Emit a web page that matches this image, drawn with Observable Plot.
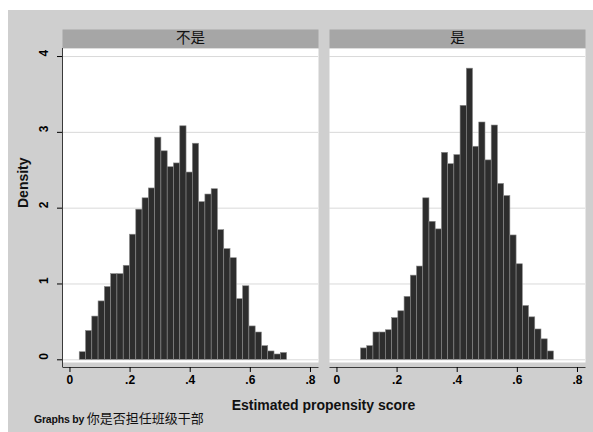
<!DOCTYPE html>
<html>
<head>
<meta charset="utf-8">
<script src="https://cdn.jsdelivr.net/npm/d3@7"></script>
<script src="https://cdn.jsdelivr.net/npm/@observablehq/plot@0.6"></script>
<style>
html, body { margin: 0; padding: 0; background: #ffffff; }
#wrap { position: absolute; left: 8px; top: 10px; width: 585px; height: 422px; background: #cfcfcf;
  font-family: "Liberation Sans", Arial, sans-serif; overflow: hidden; }
#chart svg { display: block; }
#xtitle { position: absolute; left: 53px; width: 525px; top: 386px; line-height: 18px; text-align: center;
  font-size: 14px; font-weight: bold; color: #111; }
#caption { position: absolute; left: 26px; top: 400px; line-height: 16px; color: #111; white-space: nowrap; }
#caption .en { font-size: 10.5px; font-weight: bold; letter-spacing: -0.2px; }
#caption .zh { font-size: 13px; font-family: "Noto Sans CJK SC", sans-serif; }
</style>
</head>
<body>
<div id="wrap">
  <div id="chart"></div>
  <div id="xtitle">Estimated propensity score</div>
  <div id="caption"><span class="en">Graphs by </span><span class="zh">你是否担任班级干部</span></div>
</div>
<script>
// ---- data ----
const groups = ["不是", "是"];
const leftBinStart = 0.0325;
const leftBinWidth = 0.0209;
const leftDensity = [0.10, 0.38, 0.57, 0.77, 0.96, 1.13, 1.13, 1.24, 1.65, 1.98, 2.13, 2.26, 2.93, 2.75, 2.54, 2.59, 3.08,
  2.47, 2.85, 2.08, 2.18, 2.25, 1.71, 1.46, 1.34, 0.80, 0.97, 0.44, 0.36, 0.18, 0.11, 0.07, 0.09];
const rightBinStart = 0.080;
const rightBinWidth = 0.0207;
const rightDensity = [0.15, 0.18, 0.36, 0.36, 0.39, 0.55, 0.64, 0.83, 1.11, 1.23, 2.13, 1.82, 1.72, 2.73, 2.58, 2.70, 3.35,
  3.84, 2.81, 3.13, 2.63, 3.09, 2.32, 2.16, 1.64, 1.26, 0.71, 0.56, 0.40, 0.27, 0.11];
const xTicks = [0, 0.2, 0.4, 0.6, 0.8];
const xTickLabels = ["0", ".2", ".4", ".6", ".8"];
const yTicks = [0, 1, 2, 3, 4];
const yTickLabels = ["0", "1", "2", "3", "4"];
const yTitle = "Density";

// ---- build table ----
const rows = [];
leftDensity.forEach((v, i) => rows.push({group: groups[0], x1: leftBinStart + i * leftBinWidth, x2: leftBinStart + (i + 1) * leftBinWidth, base: 0, density: v}));
rightDensity.forEach((v, i) => rows.push({group: groups[1], x1: rightBinStart + i * rightBinWidth, x2: rightBinStart + (i + 1) * rightBinWidth, base: 0, density: v}));

// ---- layout ----
const W = 585, H = 382, mL = 53, mR = 7, mT = 38, mB = 25;
const innerH = H - mT - mB;
const xDomain = [-0.0248, 0.8267];
const yDomain = [-0.1016, 4.106];
const font = "Liberation Sans, Arial, sans-serif";

const chart = Plot.plot({
  width: W, height: H,
  marginLeft: mL, marginRight: mR, marginTop: mT, marginBottom: mB,
  style: {background: "transparent", fontFamily: font, fontSize: "12px", color: "#000", overflow: "visible"},
  fx: {domain: groups, paddingInner: 0.04, paddingOuter: 0, axis: null, label: null},
  x: {domain: xDomain, axis: null},
  y: {domain: yDomain, axis: null},
  marks: [
    // strip header
    Plot.frame({fill: "#a6a6a6", stroke: "none", insetTop: -19, insetBottom: innerH}),
    // white plot region
    Plot.frame({fill: "#ffffff", stroke: "none", insetBottom: 5}),
    Plot.gridY(yTicks, {stroke: "#d9d9d9", strokeOpacity: 1}),
    Plot.rect(rows, {fx: "group", x1: "x1", x2: "x2", y1: "base", y2: "density",
      fill: "#2d2d2d", stroke: "#8a8a8a", strokeWidth: 0.6}),
    // x axis line
    Plot.frame({fill: "#3a3a3a", stroke: "none", insetTop: innerH - 0.5, insetBottom: -0.5}),
    Plot.axisX(xTicks, {tickSize: 5, tickPadding: 3, fontSize: 12, fontWeight: "bold", label: null,
      tickFormat: d => xTickLabels[xTicks.indexOf(d)]}),
    // y axis line (left panel only)
    Plot.ruleX([xDomain[0]], {fx: () => groups[0], stroke: "#3a3a3a"}),
    Plot.axisY(yTicks, {tickSize: 5, tickFormat: () => "", label: null}),
    Plot.text(yTicks, {fx: () => groups[0], y: d => d, text: d => yTickLabels[yTicks.indexOf(d)],
      frameAnchor: "left", dx: -18, rotate: -90, fontSize: 12, fontWeight: "bold", fill: "#000"}),
    Plot.text([yTitle], {fx: () => groups[0], text: d => d, frameAnchor: "left", dx: -39, rotate: -90,
      fontSize: 14, fontWeight: "bold", fill: "#111"}),
    // strip labels
    Plot.text(groups, {fx: d => d, text: d => d, frameAnchor: "top", lineAnchor: "middle", dy: -10, fontSize: 14.5,
      fontFamily: "Noto Sans CJK SC, sans-serif", fill: "#111"})
  ]
});
document.getElementById("chart").appendChild(chart);
</script>
</body>
</html>
